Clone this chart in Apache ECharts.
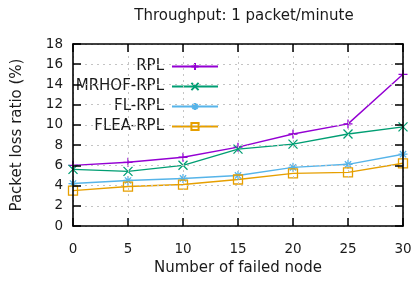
<!DOCTYPE html>
<html><head><meta charset="utf-8">
<script src="https://cdn.jsdelivr.net/npm/echarts@6/dist/echarts.min.js"></script>
<style>html,body{margin:0;padding:0;background:#fff}#c{width:417px;height:292px}</style>
</head><body><div id="c"></div>
<script>
const failedNodes = [0, 5, 10, 15, 20, 25, 30];
const rpl   = [6.0, 6.3, 6.8, 7.8, 9.1, 10.1, 15.0];
const mrhof = [5.6, 5.4, 6.0, 7.6, 8.1, 9.1, 9.8];
const flrpl = [4.2, 4.5, 4.7, 5.0, 5.8, 6.1, 7.1];
const flea  = [3.5, 3.9, 4.1, 4.6, 5.2, 5.3, 6.2];
const seriesNames = ['RPL', 'MRHOF-RPL', 'FL-RPL', 'FLEA-RPL'];
const seriesData = [rpl, mrhof, flrpl, flea];
const colors = ['#9400d3', '#009e73', '#56b4e9', '#e69f00'];
const symbols = [
  'path://M0,5L10,5M5,0L5,10',
  'path://M1,1L9,9M9,1L1,9',
  'path://M0,5L10,5M5,0L5,10M1.5,1.5L8.5,8.5M8.5,1.5L1.5,8.5',
  'rect'
];
const FONT = 'DejaVu Sans';
const TXT = '#1a1a1a';
const chart = echarts.init(document.getElementById('c'), null, {renderer: 'canvas'});
const legendTops = [54, 74, 94, 114];
const axisLine = {show: true, onZero: false, lineStyle: {color: '#000', width: 1.6}};
const tick = {show: true, inside: true, length: 8, interval: 0, lineStyle: {color: '#000', width: 1.5, opacity: 1}};
const gridLine = {show: true, lineStyle: {color: '#c4c4c4', type: [2, 4], width: 1}};
chart.setOption({
  animation: false,
  backgroundColor: '#fff',
  textStyle: {fontFamily: FONT},
  title: {
    text: 'Throughput: 1 packet/minute', left: 239, top: 4, textAlign: 'center',
    textStyle: {fontFamily: FONT, fontSize: 15, fontWeight: 'normal', color: TXT}
  },
  grid: {left: 73, right: 14, top: 44, bottom: 66},
  legend: seriesNames.map((n, i) => ({
    data: [n], orient: 'vertical', right: 193, top: legendTops[i], align: 'right',
    itemWidth: 46, itemHeight: 9, selectedMode: false,
    textStyle: {fontFamily: FONT, fontSize: 15, color: TXT, padding: [0, 3, 0, 0]}
  })),
  xAxis: [{
    type: 'value', min: 0, max: 30, interval: 5, z: 5,
    name: 'Number of failed node', nameLocation: 'middle', nameGap: 35,
    nameTextStyle: {fontFamily: FONT, fontSize: 15, color: TXT},
    axisLabel: {fontFamily: FONT, fontSize: 13.5, color: TXT, margin: 16},
    splitLine: gridLine, axisLine: axisLine, axisTick: tick
  }, {
    type: 'value', min: 0, max: 30, interval: 5, position: 'top', z: 5,
    axisLabel: {show: false}, splitLine: {show: false}, axisLine: axisLine, axisTick: tick
  }],
  yAxis: [{
    type: 'value', min: 0, max: 18, interval: 2, z: 5,
    name: 'Packet loss ratio (%)', nameLocation: 'middle', nameGap: 48,
    nameTextStyle: {fontFamily: FONT, fontSize: 15, color: TXT},
    axisLabel: {fontFamily: FONT, fontSize: 13.5, color: TXT, margin: 10},
    splitLine: gridLine, axisLine: axisLine, axisTick: tick
  }, {
    type: 'value', min: 0, max: 18, interval: 2, position: 'right', z: 5,
    axisLabel: {show: false}, splitLine: {show: false}, axisLine: axisLine, axisTick: tick
  }],
  series: seriesNames.map((n, i) => ({
    name: n, type: 'line', xAxisIndex: 0, yAxisIndex: 0,
    data: failedNodes.map((x, j) => [x, seriesData[i][j]]),
    symbol: symbols[i], symbolSize: 9, showAllSymbol: true,
    clip: false,
    lineStyle: {color: colors[i], width: 1.4},
    itemStyle: {color: i === 3 ? 'rgba(0,0,0,0)' : colors[i], borderColor: colors[i], borderWidth: 1.3},
    emphasis: {disabled: true}
  }))
});
</script></body></html>
